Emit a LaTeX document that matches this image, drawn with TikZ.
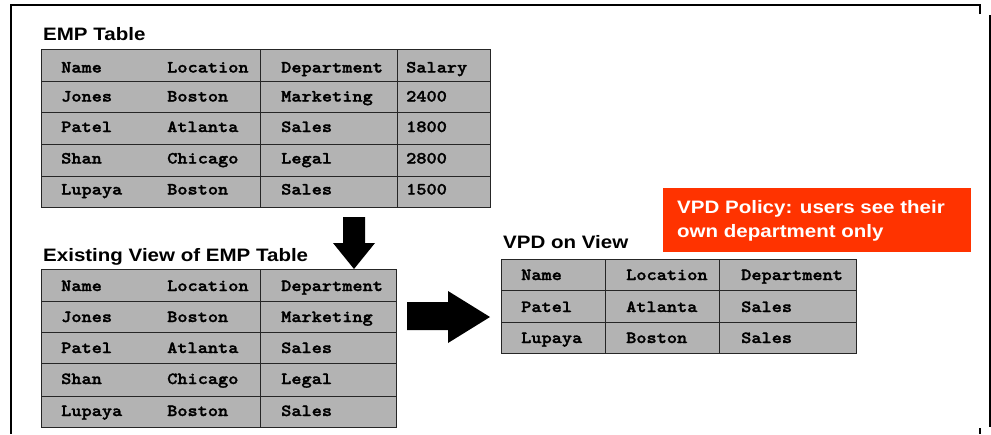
\documentclass[tikz,border=0pt]{standalone}
\usepackage{fontspec}
\newfontfamily\hdfont[FakeStretch=1.14]{Liberation Sans}
\newfontfamily\cellfont[FakeStretch=1.14,FakeBold=1.6]{lmmonolt10-bold.otf}
\definecolor{cellgray}{HTML}{B3B3B3}
\definecolor{gridline}{HTML}{262626}
\definecolor{vpdorange}{HTML}{FF3300}
\begin{document}
\begin{tikzpicture}[x=1pt,y=-1pt,
  tbl/.style={fill=cellgray, draw=gridline, line width=1.2pt, anchor=north west, inner sep=0pt},
  gridl/.style={draw=gridline, line width=1pt},
  cell/.style={anchor=base west, inner sep=0pt, font=\cellfont\fontsize{17}{17}\selectfont},
  heading/.style={anchor=base west, inner sep=0pt, font=\hdfont\bfseries\fontsize{18}{20}\selectfont},
  frameline/.style={line width=2pt, black},
  bigarrow/.style={fill=black}]
\useasboundingbox (0,0) rectangle (991,434);

% frame
\draw[frameline] (980,14) -- (980,5) -- (11,5) -- (11,434);
\draw[frameline] (990,15) -- (990,427);
\draw[frameline] (980,428) -- (980,434);

% EMP table
\node[heading] (t1) at (43,40) {EMP Table};
\node[tbl, minimum width=449pt, minimum height=158pt] (emp) at (41,49) {};
\foreach \yy in {81,112,144,176} \draw[gridl] (41,\yy) -- (490,\yy);
\draw[gridl] (260,49) -- (260,207);
\draw[gridl] (397,49) -- (397,207);
\foreach \yy/\a/\b/\c/\d [count=\i] in {72.5/Name/Location/Department/Salary,101.5/Jones/Boston/Marketing/2400,132/Patel/Atlanta/Sales/1800,163.5/Shan/Chicago/Legal/2800,194.5/Lupaya/Boston/Sales/1500}{
  \node[cell] (e\i a) at (61,\yy) {\a};
  \node[cell] (e\i b) at (167,\yy) {\b};
  \node[cell] (e\i c) at (281,\yy) {\c};
  \node[cell] (e\i d) at (406,\yy) {\d};
}

% down arrow
\fill[bigarrow] (343,217) -- (365,217) -- (365,243) -- (375,243) -- (354,269) -- (333,243) -- (343,243) -- cycle;

% Existing view
\node[heading] (t2) at (43,261) {Existing View of EMP Table};
\node[tbl, minimum width=355pt, minimum height=158pt] (view) at (41,269) {};
\foreach \yy in {301,332,363,396} \draw[gridl] (41,\yy) -- (396,\yy);
\draw[gridl] (260,269) -- (260,427);
\foreach \yy/\a/\b/\c [count=\i] in {291/Name/Location/Department,322/Jones/Boston/Marketing,353/Patel/Atlanta/Sales,384/Shan/Chicago/Legal,416/Lupaya/Boston/Sales}{
  \node[cell] (v\i a) at (61,\yy) {\a};
  \node[cell] (v\i b) at (167,\yy) {\b};
  \node[cell] (v\i c) at (281,\yy) {\c};
}

% right arrow
\fill[bigarrow] (407,302) -- (448,302) -- (448,291) -- (490,317) -- (448,343) -- (448,330) -- (407,330) -- cycle;

% VPD on view
\node[heading] (t3) at (503,248) {VPD on View};
\node[tbl, minimum width=355pt, minimum height=94pt] (vpd) at (501,259) {};
\foreach \yy in {290,322} \draw[gridl] (501,\yy) -- (856,\yy);
\draw[gridl] (605,259) -- (605,353);
\draw[gridl] (719,259) -- (719,353);
\foreach \yy/\a/\b/\c [count=\i] in {280/Name/Location/Department,312/Patel/Atlanta/Sales,343/Lupaya/Boston/Sales}{
  \node[cell] (p\i a) at (521,\yy) {\a};
  \node[cell] (p\i b) at (626,\yy) {\b};
  \node[cell] (p\i c) at (741,\yy) {\c};
}

% policy box
\node[fill=vpdorange, minimum width=308pt, minimum height=64pt, anchor=north west, inner sep=0pt] (policy) at (663,188) {};
\node[heading, text=white] (pol1) at (677,213) {VPD Policy: users see their};
\node[heading, text=white] (pol2) at (677,237) {own department only};
\end{tikzpicture}
\end{document}
